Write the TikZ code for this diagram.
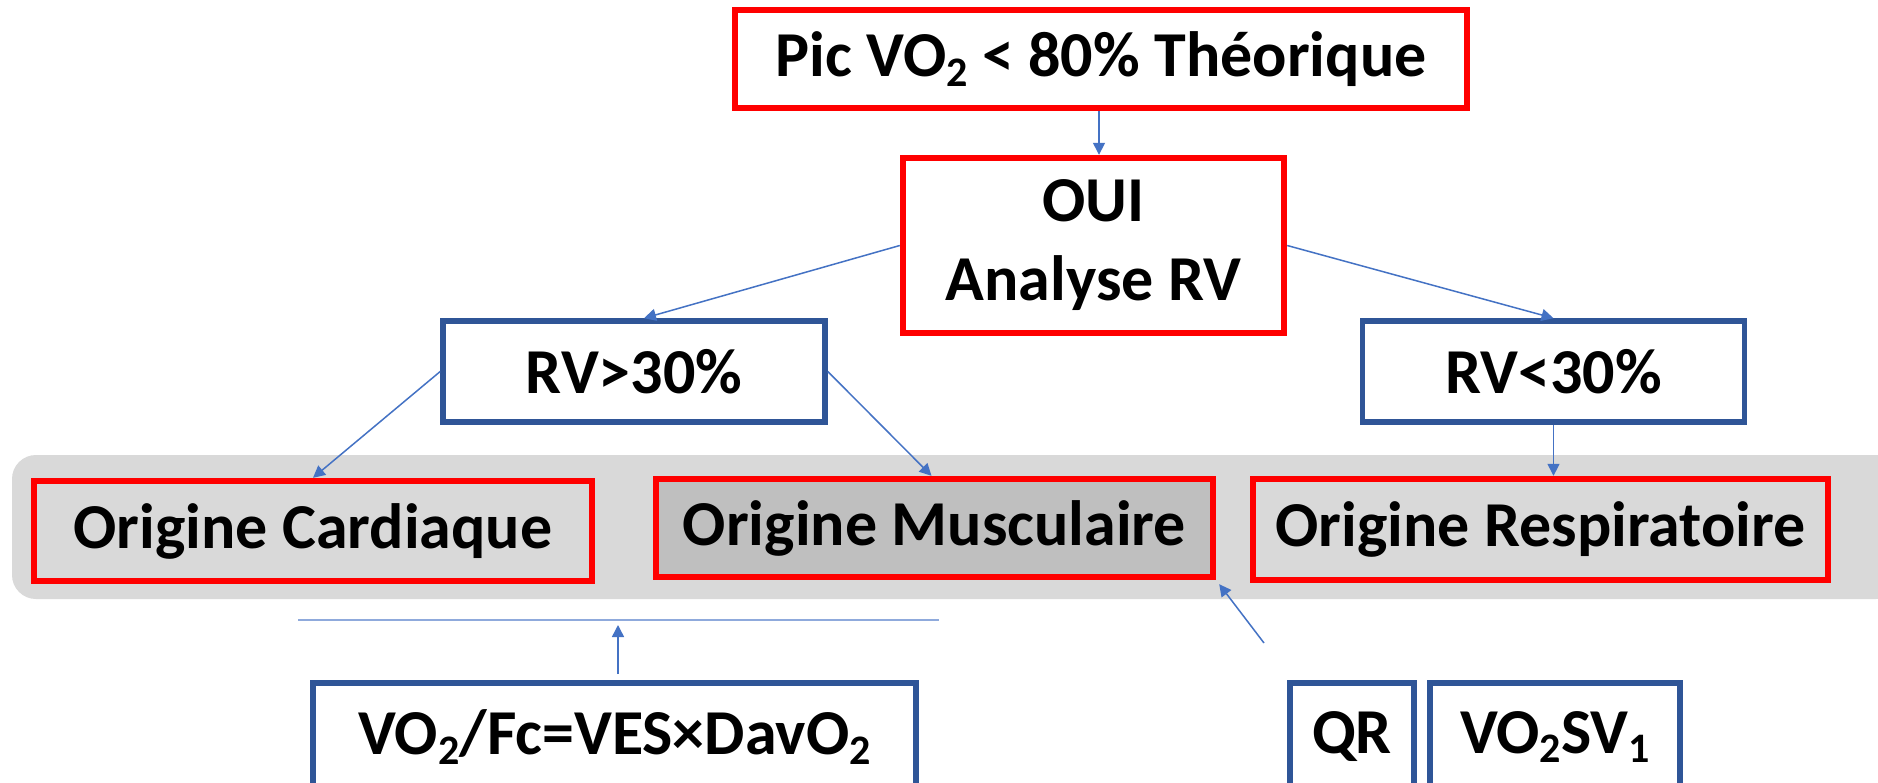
\documentclass[tikz,border=0pt]{standalone}
\usepackage{fontspec}
\setmainfont{Carlito}
\usetikzlibrary{arrows.meta,calc}
\definecolor{boxred}{HTML}{FF0000}
\definecolor{boxblue}{HTML}{2F5597}
\definecolor{arrowblue}{HTML}{4472C4}
\definecolor{lineblue}{HTML}{8FAADC}
\definecolor{bandgray}{HTML}{D9D9D9}
\definecolor{darkgray}{HTML}{BFBFBF}
\newcommand\lowsub[1]{\raisebox{-0.32ex}{\fontsize{21}{21}\selectfont #1}}
\begin{document}
\begin{tikzpicture}[x=0.5pt,y=-0.5pt,
  box/.style={rectangle, inner sep=0pt, align=center,
    font=\bfseries\fontsize{32}{39.5}\selectfont},
  redbox/.style={box, draw=boxred, line width=3.2pt, fill=white},
  bluebox/.style={box, draw=boxblue, line width=2.8pt, fill=white},
  arr/.style={draw=arrowblue, line width=0.75pt, -{Triangle[length=6pt,width=6pt]}},
  thinline/.style={draw=lineblue, line width=0.9pt}]
\useasboundingbox (0,0) rectangle (1878,782);
\fill[white] (0,0) rectangle (1878,782);
% band
\fill[bandgray, rounded corners=12pt] (12,455) rectangle (1900,599);
% nodes
\node[redbox, minimum width=366pt, minimum height=49pt] (top) at (1101,59)
  {Pic VO\lowsub{2} < 80\% Théorique};
\node[redbox, minimum width=190.5pt, minimum height=87.5pt] (oui) at (1093.5,245.5)
  {OUI\\Analyse RV};
\node[bluebox, minimum width=191pt, minimum height=50.5pt] (rva) at (634,371.5) {RV>30\%};
\node[bluebox, minimum width=191pt, minimum height=50.5pt] (rvb) at (1553.5,371.5) {RV<30\%};
\node[redbox, fill=bandgray, minimum width=279pt, minimum height=50pt] (oc) at (313,531)
  {Origine Cardiaque};
\node[redbox, fill=darkgray, minimum width=278.5pt, minimum height=49pt] (om) at (934.5,528)
  {Origine Musculaire};
\node[redbox, fill=bandgray, minimum width=287.5pt, minimum height=50.5pt] (or) at (1540.5,529.5)
  {Origine Respiratoire};
\node[bluebox, minimum width=301.5pt, minimum height=54pt] (fc) at (614.5,737)
  {VO\lowsub{2}/Fc=VES×DavO\lowsub{2}};
\node[bluebox, minimum width=62pt, minimum height=54pt] (qr) at (1352,737) {QR};
\node[bluebox, minimum width=125pt, minimum height=54pt] (sv) at (1555,737)
  {VO\lowsub{2}SV\lowsub{1}};
% free coordinates
\coordinate (lineL) at (298,620);
\coordinate (lineR) at (939,620);
\coordinate (upS) at (618,674);
\coordinate (upE) at (618,625);
\coordinate (diagS) at (1264,643);
% connectors
\draw[arr] ($(top.south)+(-2,0)$) -- ($(top.south |- oui.north)+(-2,0)$);
\draw[arr] (oui.west) -- ($(rva.north)+(10,0)$);
\draw[arr] (oui.east) -- (rvb.north);
\draw[arr] (rva.west) -- (oc.north);
\draw[arr] (rva.east) -- ($(om.north)+(-3,0)$);
\draw[arr] (rvb.south) -- (rvb.south |- or.north);
\draw[thinline] (lineL) -- (lineR);
\draw[arr] (upS) -- (upE);
\draw[arr] (diagS) -- ($(om.south east)+(3,4)$);
\end{tikzpicture}
\end{document}
